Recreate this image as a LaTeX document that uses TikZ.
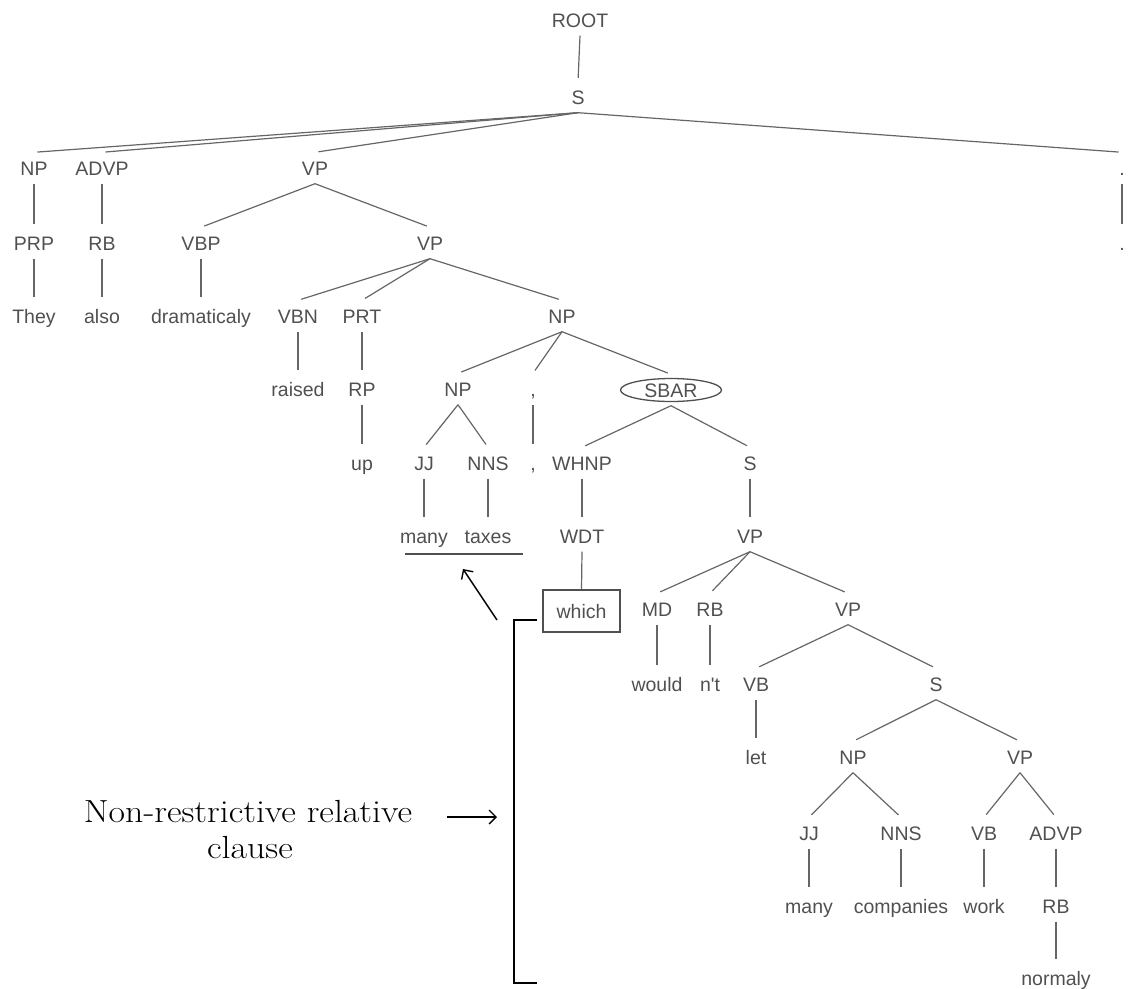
\documentclass[tikz,border=0pt]{standalone}
\usepackage{fontspec}
\newfontfamily\treefont{Liberation Sans}
\usetikzlibrary{arrows.meta}
\definecolor{tgray}{HTML}{505050}
\definecolor{lgray}{HTML}{666666}
\begin{document}
\begin{tikzpicture}[x=1pt,y=-1pt,
  lbl/.style={font=\treefont\fontsize{19.5}{22}\selectfont, text=tgray,
    inner xsep=1pt, inner ysep=8.5pt, text height=14pt, text depth=0pt},
  tline/.style={draw=lgray, line width=1.2pt, shorten >=3.5pt},
  whichbox/.style={lbl, draw=tgray, line width=1.3pt, inner ysep=0pt,
    minimum width=77pt, minimum height=42pt},
  annot/.style={font=\fontsize{32}{36}\selectfont, text=black, anchor=base,
    xscale=1.12, transform shape},
  blk/.style={draw=black, line width=1.8pt},
  arr/.style={draw=black, line width=1.4pt, -{Straight Barb[length=7pt,width=14pt]}}
]
\useasboundingbox (0,0) rectangle (1134,988);
% row 0-1
\node[lbl] (root) at (580,20) {ROOT};
\node[lbl] (s1) at (578,97) {S};
% row 2
\node[lbl] (np1) at (34,168) {NP};
\node[lbl] (advp1) at (102,168) {ADVP};
\node[lbl] (vp1) at (315,168) {VP};
\node[lbl] (per1) at (1122,168) {.};
% row 3
\node[lbl] (prp) at (34,243) {PRP};
\node[lbl] (rb1) at (102,243) {RB};
\node[lbl] (vbp) at (201,243) {VBP};
\node[lbl] (vp2) at (430,243) {VP};
\node[lbl] (per2) at (1122,243) {.};
% row 4
\node[lbl] (they) at (34,316) {They};
\node[lbl] (also) at (102,316) {also};
\node[lbl] (dram) at (201,316) {dramaticaly};
\node[lbl] (vbn) at (298,316) {VBN};
\node[lbl] (prt) at (362,316) {PRT};
\node[lbl] (np2) at (562,316) {NP};
% row 5
\node[lbl] (raised) at (298,389) {raised};
\node[lbl] (rp) at (362,389) {RP};
\node[lbl] (np3) at (458,389) {NP};
\node[lbl] (com1) at (533,389) {,};
\node[lbl] (sbar) at (671,390) {SBAR};
\draw[draw=tgray, line width=1.3pt] (sbar.center) ellipse [x radius=50.5pt, y radius=11.5pt];
% row 6
\node[lbl] (up) at (362,463) {up};
\node[lbl] (jj1) at (424,463) {JJ};
\node[lbl] (nns1) at (488,463) {NNS};
\node[lbl] (com2) at (533,463) {,};
\node[lbl] (whnp) at (582,463) {WHNP};
\node[lbl] (s2) at (750,463) {S};
% row 7
\node[lbl] (many1) at (424,536) {many};
\node[lbl] (taxes) at (488,536) {taxes};
\node[lbl] (wdt) at (582,536) {WDT};
\node[lbl] (vp3) at (750,536) {VP};
% row 8
\node[whichbox] (which) at (581.5,611) {which};
\node[lbl] (md) at (657,609) {MD};
\node[lbl] (rb2) at (710,609) {RB};
\node[lbl] (vp4) at (848,609) {VP};
% row 9
\node[lbl] (would) at (657,684) {would};
\node[lbl] (nt) at (710,684) {n't};
\node[lbl] (vb1) at (756,684) {VB};
\node[lbl] (s3) at (936,684) {S};
% row 10
\node[lbl] (let) at (756,757) {let};
\node[lbl] (np4) at (853,757) {NP};
\node[lbl] (vp5) at (1020,757) {VP};
% row 11
\node[lbl] (jj2) at (809,833) {JJ};
\node[lbl] (nns2) at (901,833) {NNS};
\node[lbl] (vb2) at (984,833) {VB};
\node[lbl] (advp2) at (1056,833) {ADVP};
% row 12
\node[lbl] (many2) at (809,906) {many};
\node[lbl] (companies) at (901,906) {companies};
\node[lbl] (work) at (984,906) {work};
\node[lbl] (rb3) at (1056,906) {RB};
% row 13
\node[lbl] (normaly) at (1056,978) {normaly};

\foreach \a/\b in {root/s1, s1/np1, s1/advp1, s1/vp1, s1/per1, per1/per2,
  np1/prp, prp/they, advp1/rb1, rb1/also, vp1/vbp, vp1/vp2, vbp/dram,
  vp2/vbn, vp2/prt, vp2/np2, vbn/raised, prt/rp, rp/up,
  np2/np3, np2/com1, np2/sbar, np3/jj1, np3/nns1, jj1/many1, nns1/taxes,
  com1/com2, sbar/whnp, sbar/s2, whnp/wdt, s2/vp3,
  vp3/md, vp3/rb2, vp3/vp4, md/would, rb2/nt, vp4/vb1, vp4/s3, vb1/let,
  s3/np4, s3/vp5, np4/jj2, np4/nns2, vp5/vb2, vp5/advp2,
  jj2/many2, nns2/companies, vb2/work, advp2/rb3, rb3/normaly}
  \draw[tline] (\a.south) -- (\b.north);
\draw[tline, shorten >=0pt] (wdt.south) -- (which.north);

% underline of "many taxes"
\coordinate (ulA) at (405,554);
\coordinate (ulB) at (523,554);
\draw[draw=tgray, line width=2pt] (ulA) -- (ulB);

% arrow to the antecedent
\coordinate (arrS) at (497,620);
\coordinate (arrE) at (463,569);
\draw[arr] (arrS) -- (arrE);

% bracket
\coordinate (brA) at (537,620);
\coordinate (brB) at (514,620);
\coordinate (brC) at (514,983);
\coordinate (brD) at (537,983);
\draw[blk] (brA) -- (brB) -- (brC) -- (brD);

% annotation
\node[annot] (ann1) at (248,822) {Non-restrictive relative};
\node[annot] (ann2) at (250,858) {clause};
\coordinate (harS) at (447,817);
\coordinate (harE) at (497,817);
\draw[arr, line width=1.3pt] (harS) -- (harE);
\end{tikzpicture}
\end{document}
